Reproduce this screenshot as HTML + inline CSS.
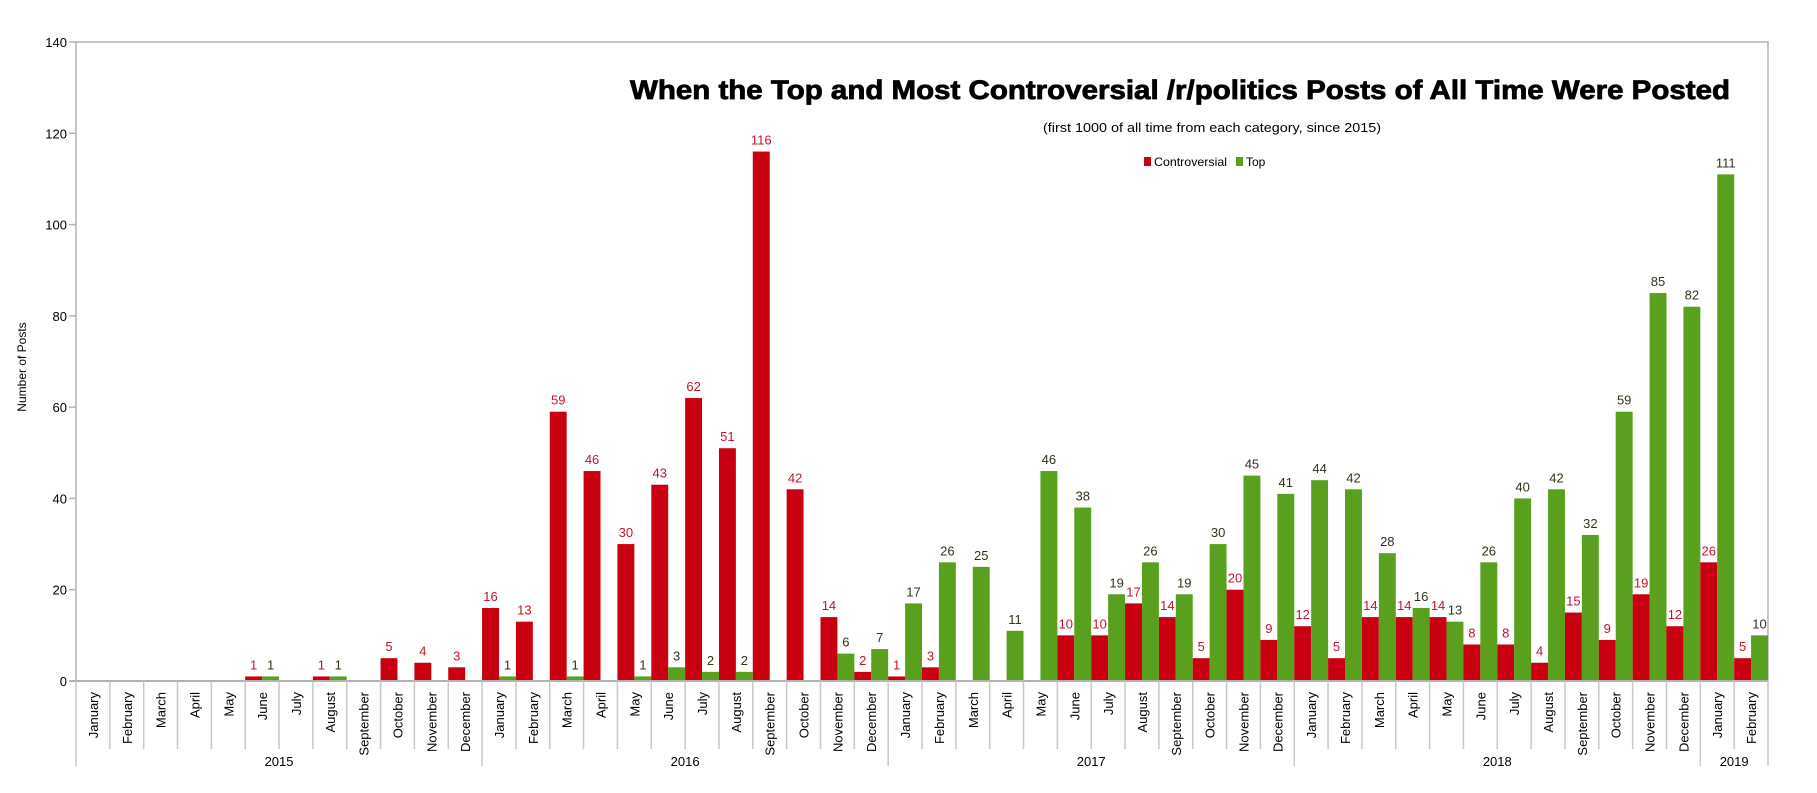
<!DOCTYPE html>
<html><head><meta charset="utf-8"><style>
html,body{margin:0;padding:0;background:#fff;}
svg{display:block;font-family:"Liberation Sans",Arial,sans-serif;}
</style></head><body>
<svg id="chart" width="1817" height="793" xmlns="http://www.w3.org/2000/svg">
<text x="1180" y="99" text-anchor="middle" font-size="27" font-weight="bold" textLength="1100" lengthAdjust="spacingAndGlyphs" stroke="#000" stroke-width="0.8">When the Top and Most Controversial /r/politics Posts of All Time Were Posted</text>
<text x="1212" y="132" text-anchor="middle" font-size="13" textLength="338" lengthAdjust="spacingAndGlyphs">(first 1000 of all time from each category, since 2015)</text>
<g>
<rect x="1144" y="157" width="7" height="9" fill="#c8000f"/>
<text x="1154" y="166" font-size="12" textLength="73" lengthAdjust="spacingAndGlyphs">Controversial</text>
<rect x="1236" y="157" width="7" height="9" fill="#58a01e"/>
<text x="1246" y="166" font-size="12">Top</text>
</g>
<text transform="translate(26,367) rotate(-90)" text-anchor="middle" font-size="12">Number of Posts</text>
<g id="plot"></g>
</svg>
<script>
const months = ["January","February","March","April","May","June","July","August","September","October","November","December"];
const years = ["2015","2016","2017","2018","2019"];
const yearMonthCounts = [12,12,12,12,2];
const controversial = [0,0,0,0,0,1,0,1,0,5,4,3, 16,13,59,46,30,43,62,51,116,42,14,2, 1,3,0,0,0,10,10,17,14,5,20,9, 12,5,14,14,14,8,8,4,15,9,19,12, 26,5];
const top_ = [0,0,0,0,0,1,0,1,0,0,0,0, 1,0,1,0,1,3,2,2,0,0,6,7, 17,26,25,11,46,38,19,26,19,30,45,41, 44,42,28,16,13,26,40,42,32,59,85,82, 111,10];
const yTicks = [0,20,40,60,80,100,120,140];

const NS="http://www.w3.org/2000/svg";
const g=document.getElementById('plot');
const L=76,R=1768,T=42,B=681,YMAX=140;
const n=controversial.length;
const slot=(R-L)/n;
const xs=i=>L+i*slot;
const ys=v=>B-(v/YMAX)*(B-T);
function el(tag,attrs){const e=document.createElementNS(NS,tag);for(const k in attrs)e.setAttribute(k,attrs[k]);g.appendChild(e);return e;}

const frame=el('rect',{x:L,y:T,width:R-L,height:B-T,fill:'none',stroke:'#b3b3b3','stroke-width':1.5});



yTicks.forEach(v=>{
  const t=el('line',{x1:L-7,x2:L,y1:ys(v),y2:ys(v),stroke:'#b3b3b3','stroke-width':1.5});
  
  
  const lb=el('text',{x:L-9,y:ys(v)+5,'text-anchor':'end','font-size':13});
  lb.textContent=v;
  
  
});

for(let i=0;i<n;i++){
  const x0=xs(i),w=slot/2;
  const c=controversial[i],tp=top_[i];
  if(c>0){
    const r=el('rect',{x:x0,y:ys(c),width:w,height:B-ys(c),fill:'#c8000f'});
    
    
    const t=el('text',{x:x0+w/2,y:ys(c)-7,'text-anchor':'middle','font-size':13,fill:'#c8102e'});
    t.textContent=c;
    
    
  }
  if(tp>0){
    const r=el('rect',{x:x0+w,y:ys(tp),width:w,height:B-ys(tp),fill:'#58a01e'});
    
    
    const t=el('text',{x:x0+w+w/2,y:ys(tp)-7,'text-anchor':'middle','font-size':13,fill:'#333318'});
    t.textContent=tp;
    
    
  }
}

const base=el('line',{x1:L-7,x2:R,y1:B,y2:B,stroke:'#b3b3b3','stroke-width':2});



let idx=0;
const yearStarts=[];
yearMonthCounts.forEach(cnt=>{yearStarts.push(idx);idx+=cnt;});
for(let i=0;i<=n;i++){
  const isYear=yearStarts.includes(i)||i===n;
  const s=el('line',{x1:xs(i),x2:xs(i),y1:B,y2:isYear?766:749,stroke:'#c8c8c8','stroke-width':1.5});
  
  
}
for(let i=0;i<n;i++){
  const m=months[i%12];
  const cx=xs(i)+slot/2+5;
  const t=el('text',{transform:`translate(${cx},692) rotate(-90)`,'text-anchor':'end','font-size':13});
  t.textContent=m;
  
  
}
years.forEach((y,k)=>{
  const s=yearStarts[k],cnt=yearMonthCounts[k];
  const cx=xs(s)+cnt*slot/2;
  const t=el('text',{x:cx,y:766,'text-anchor':'middle','font-size':13});
  t.textContent=y;
  
  
});
</script>
</body></html>
